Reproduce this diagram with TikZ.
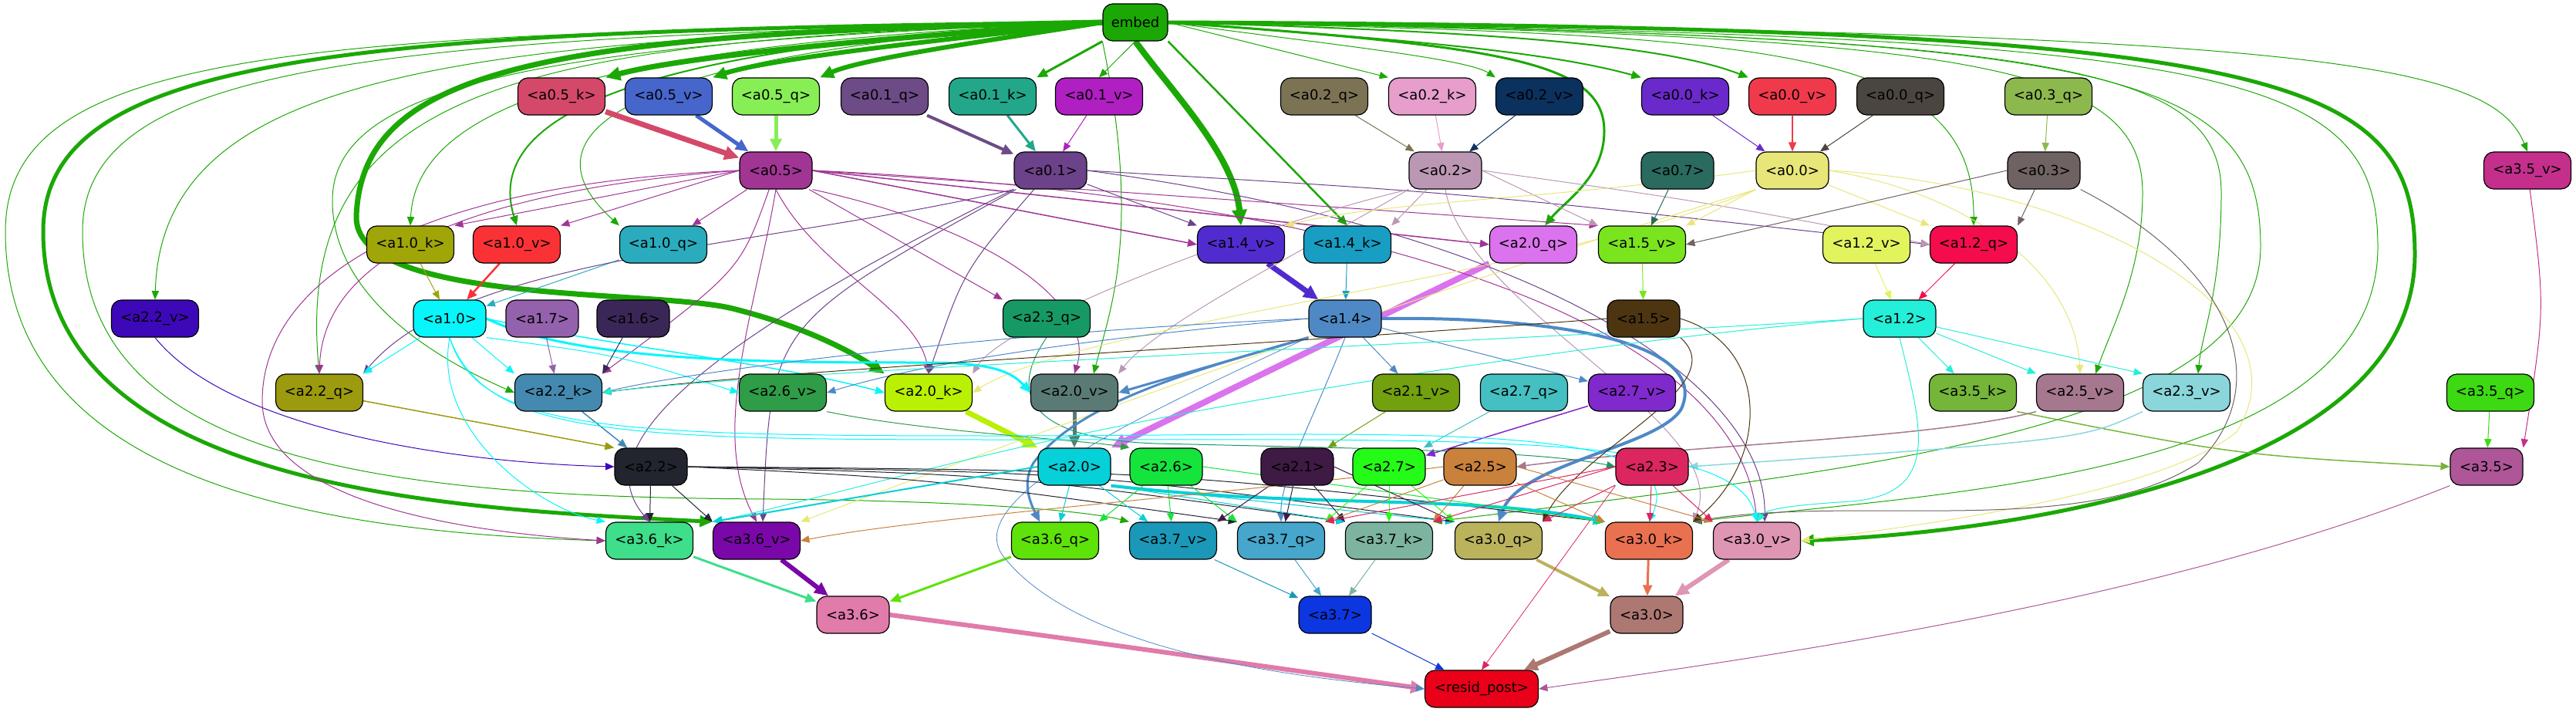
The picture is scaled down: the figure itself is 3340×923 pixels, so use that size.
\documentclass[tikz,border=0pt]{standalone}
\usepackage{fontspec}
\setmainfont{DejaVu Sans}
\usetikzlibrary{arrows.meta}
\pgfdeclarelayer{bg}
\pgfsetlayers{bg,main}
\definecolor{cE}{HTML}{1BA805}
\definecolor{c05k}{HTML}{D4496A}
\definecolor{c05v}{HTML}{4666CC}
\definecolor{c05q}{HTML}{88EE55}
\definecolor{c01q}{HTML}{6D4B87}
\definecolor{c01k}{HTML}{23A78A}
\definecolor{c01v}{HTML}{AF1FC2}
\definecolor{c02q}{HTML}{7B7354}
\definecolor{c02k}{HTML}{E79ECC}
\definecolor{c02v}{HTML}{0B315E}
\definecolor{c00k}{HTML}{6A2ACB}
\definecolor{c00v}{HTML}{F03A4C}
\definecolor{c00q}{HTML}{4B4540}
\definecolor{c03q}{HTML}{8DB84E}
\definecolor{c05}{HTML}{A03594}
\definecolor{c01}{HTML}{6C428A}
\definecolor{c02}{HTML}{BB97B4}
\definecolor{c07}{HTML}{2B6A5E}
\definecolor{c00}{HTML}{E8E679}
\definecolor{c03}{HTML}{6F6262}
\definecolor{c35v}{HTML}{C42F8C}
\definecolor{c10k}{HTML}{A0A508}
\definecolor{c10v}{HTML}{FB3235}
\definecolor{c10q}{HTML}{2AACBE}
\definecolor{c14v}{HTML}{502CCF}
\definecolor{c14k}{HTML}{179EC2}
\definecolor{c20q}{HTML}{DB73EE}
\definecolor{c15v}{HTML}{7AE41E}
\definecolor{c12v}{HTML}{E3F35E}
\definecolor{c12q}{HTML}{F50C4C}
\definecolor{c22v}{HTML}{3D08B8}
\definecolor{c10}{HTML}{06F6FB}
\definecolor{c17}{HTML}{9461AC}
\definecolor{c16}{HTML}{3A2757}
\definecolor{c23q}{HTML}{179963}
\definecolor{c14}{HTML}{4E89C6}
\definecolor{c15}{HTML}{4C3510}
\definecolor{c12}{HTML}{24EFD8}
\definecolor{c22q}{HTML}{9C9A0E}
\definecolor{c22k}{HTML}{448AB0}
\definecolor{c26v}{HTML}{2F9C47}
\definecolor{c20k}{HTML}{BAF004}
\definecolor{c20v}{HTML}{5A7A76}
\definecolor{c21v}{HTML}{72A00F}
\definecolor{c27q}{HTML}{44C0C2}
\definecolor{c27v}{HTML}{8029CC}
\definecolor{c35k}{HTML}{74B53A}
\definecolor{c25v}{HTML}{A67890}
\definecolor{c23v}{HTML}{8AD6DB}
\definecolor{c35q}{HTML}{3DD912}
\definecolor{c22}{HTML}{22252E}
\definecolor{c20}{HTML}{06D0D8}
\definecolor{c26}{HTML}{15E43D}
\definecolor{c21}{HTML}{3F1A45}
\definecolor{c27}{HTML}{24FB17}
\definecolor{c25}{HTML}{C9813B}
\definecolor{c23}{HTML}{DB2660}
\definecolor{c35}{HTML}{AE5697}
\definecolor{c36k}{HTML}{3EDE8B}
\definecolor{c36v}{HTML}{7A08A8}
\definecolor{c36q}{HTML}{5EE20A}
\definecolor{c37v}{HTML}{1B98B8}
\definecolor{c37q}{HTML}{46A6CB}
\definecolor{c37k}{HTML}{7CB49F}
\definecolor{c30q}{HTML}{BAB35C}
\definecolor{c30k}{HTML}{EA7150}
\definecolor{c30v}{HTML}{DF95B4}
\definecolor{c36}{HTML}{E07BAA}
\definecolor{c37}{HTML}{0C36E0}
\definecolor{c30}{HTML}{AD7872}
\definecolor{cres}{HTML}{EA0018}
\begin{document}
\begin{tikzpicture}[x=1pt,y=-1pt,
  nd/.style={draw=black, line width=1.2pt, rounded corners=13pt, minimum height=48pt, inner sep=0pt, font=\fontsize{18}{20}\selectfont, text=black},
  nb/.style={nd, minimum width=113pt},
  ns/.style={nd, minimum width=94pt},
  ea/.style={-{Triangle[length=10pt 1.3, width=8pt 1.3]}, line width=1pt}]
\useasboundingbox (0,0) rectangle (3340,923);
% nodes
\node[nd, minimum width=84pt, fill=cE] (embed) at (1472,29) {embed};
\node[nb, fill=c05k] (a05k) at (728,125) {<a0.5\_k>};
\node[nb, fill=c05v] (a05v) at (867,125) {<a0.5\_v>};
\node[nb, fill=c05q] (a05q) at (1006,125) {<a0.5\_q>};
\node[nb, fill=c01q] (a01q) at (1147,125) {<a0.1\_q>};
\node[nb, fill=c01k] (a01k) at (1287,125) {<a0.1\_k>};
\node[nb, fill=c01v] (a01v) at (1425,125) {<a0.1\_v>};
\node[nb, fill=c02q] (a02q) at (1717,125) {<a0.2\_q>};
\node[nb, fill=c02k] (a02k) at (1857,125) {<a0.2\_k>};
\node[nb, fill=c02v] (a02v) at (1996,125) {<a0.2\_v>};
\node[nb, fill=c00k] (a00k) at (2185,125) {<a0.0\_k>};
\node[nb, fill=c00v] (a00v) at (2324,125) {<a0.0\_v>};
\node[nb, fill=c00q] (a00q) at (2464,125) {<a0.0\_q>};
\node[nb, fill=c03q] (a03q) at (2656,125) {<a0.3\_q>};
\node[ns, fill=c05] (a05) at (1006,221) {<a0.5>};
\node[ns, fill=c01] (a01) at (1362,221) {<a0.1>};
\node[ns, fill=c02] (a02) at (1874,221) {<a0.2>};
\node[ns, fill=c07] (a07) at (2175,221) {<a0.7>};
\node[ns, fill=c00] (a00) at (2324,221) {<a0.0>};
\node[ns, fill=c03] (a03) at (2650,221) {<a0.3>};
\node[nb, fill=c35v] (a35v) at (3277,221) {<a3.5\_v>};
\node[nb, fill=c10k] (a10k) at (532,317) {<a1.0\_k>};
\node[nb, fill=c10v] (a10v) at (670,317) {<a1.0\_v>};
\node[nb, fill=c10q] (a10q) at (860,317) {<a1.0\_q>};
\node[nb, fill=c14v] (a14v) at (1609,317) {<a1.4\_v>};
\node[nb, fill=c14k] (a14k) at (1747,317) {<a1.4\_k>};
\node[nb, fill=c20q] (a20q) at (1988,317) {<a2.0\_q>};
\node[nb, fill=c15v] (a15v) at (2129,317) {<a1.5\_v>};
\node[nb, fill=c12v] (a12v) at (2420,317) {<a1.2\_v>};
\node[nb, fill=c12q] (a12q) at (2559,317) {<a1.2\_q>};
\node[nb, fill=c22v] (a22v) at (201,413) {<a2.2\_v>};
\node[ns, fill=c10] (a10) at (583,413) {<a1.0>};
\node[ns, fill=c17] (a17) at (703,413) {<a1.7>};
\node[ns, fill=c16] (a16) at (821,413) {<a1.6>};
\node[nb, fill=c23q] (a23q) at (1357,413) {<a2.3\_q>};
\node[ns, fill=c14] (a14) at (1744,413) {<a1.4>};
\node[ns, fill=c15] (a15) at (2131,413) {<a1.5>};
\node[ns, fill=c12] (a12) at (2463,413) {<a1.2>};
\node[nb, fill=c22q] (a22q) at (414,509) {<a2.2\_q>};
\node[nb, fill=c22k] (a22k) at (724,509) {<a2.2\_k>};
\node[nb, fill=c26v] (a26v) at (1015,509) {<a2.6\_v>};
\node[nb, fill=c20k] (a20k) at (1204,509) {<a2.0\_k>};
\node[nb, fill=c20v] (a20v) at (1393,509) {<a2.0\_v>};
\node[nb, fill=c21v] (a21v) at (1836,509) {<a2.1\_v>};
\node[nb, fill=c27q] (a27q) at (1976,509) {<a2.7\_q>};
\node[nb, fill=c27v] (a27v) at (2116,509) {<a2.7\_v>};
\node[nb, fill=c35k] (a35k) at (2558,509) {<a3.5\_k>};
\node[nb, fill=c25v] (a25v) at (2697,509) {<a2.5\_v>};
\node[nb, fill=c23v] (a23v) at (2835,509) {<a2.3\_v>};
\node[nb, fill=c35q] (a35q) at (3229,509) {<a3.5\_q>};
\node[ns, fill=c22] (a22) at (844,605) {<a2.2>};
\node[ns, fill=c20] (a20) at (1393,605) {<a2.0>};
\node[ns, fill=c26] (a26) at (1512,605) {<a2.6>};
\node[ns, fill=c21] (a21) at (1682,605) {<a2.1>};
\node[ns, fill=c27] (a27) at (1801,605) {<a2.7>};
\node[ns, fill=c25] (a25) at (1919,605) {<a2.5>};
\node[ns, fill=c23] (a23) at (2142,605) {<a2.3>};
\node[ns, fill=c35] (a35) at (3224,605) {<a3.5>};
\node[nb, fill=c36k] (a36k) at (842,701) {<a3.6\_k>};
\node[nb, fill=c36v] (a36v) at (981,701) {<a3.6\_v>};
\node[nb, fill=c36q] (a36q) at (1368,701) {<a3.6\_q>};
\node[nb, fill=c37v] (a37v) at (1521,701) {<a3.7\_v>};
\node[nb, fill=c37q] (a37q) at (1661,701) {<a3.7\_q>};
\node[nb, fill=c37k] (a37k) at (1801,701) {<a3.7\_k>};
\node[nb, fill=c30q] (a30q) at (1943,701) {<a3.0\_q>};
\node[nb, fill=c30k] (a30k) at (2138,701) {<a3.0\_k>};
\node[nb, fill=c30v] (a30v) at (2278,701) {<a3.0\_v>};
\node[ns, fill=c36] (a36) at (1106,797) {<a3.6>};
\node[ns, fill=c37] (a37) at (1731,797) {<a3.7>};
\node[ns, fill=c30] (a30) at (2135,797) {<a3.0>};
\node[nd, minimum width=147pt, fill=cres] (res) at (1921,893) {<resid\_post>};
\begin{pgfonlayer}{bg}
% embed, right and down
\draw[ea,cE,line width=7pt] (embed.west) .. controls (1200,45) and (900,70) .. (a05k.north east);
\draw[ea,cE,line width=6pt] (embed.west) .. controls (1250,48) and (1000,75) .. (a05v.north east);
\draw[ea,cE,line width=6pt] (embed.west) .. controls (1300,50) and (1120,75) .. (a05q.north east);
\draw[ea,cE,line width=3pt] (embed.south west) -- (a01k.north east);
\draw[ea,cE] (embed.south) -- (a01v.north);
\draw[ea,cE,line width=8pt] (embed.south) .. controls (1520,120) and (1600,200) .. (a14v.north);
\draw[ea,cE,line width=2.5pt] (embed.south east) -- (a14k.north);
\draw[ea,cE,line width=3pt] (embed.east) .. controls (1950,60) and (2080,80) .. (2080,170) .. controls (2080,230) and (2030,260) .. ([xshift=15pt]a20q.north);
\draw[ea,cE] (embed.east) -- (a02k.north west);
\draw[ea,cE] (embed.east) .. controls (1700,55) and (1900,75) .. (a02v.north west);
\draw[ea,cE,line width=2pt] (embed.east) .. controls (1800,50) and (2000,65) .. (a00k.north west);
\draw[ea,cE,line width=2pt] (embed.east) .. controls (1900,40) and (2150,55) .. (a00v.north west);
\draw[ea,cE] (embed.east) .. controls (2300,45) and (2560,60) .. (a12q.north);
\draw[ea,cE] (embed.east) .. controls (2550,45) and (2778,80) .. (2778,250) .. controls (2778,350) and (2740,420) .. ([xshift=20pt]a25v.north);
\draw[ea,cE] (embed.east) .. controls (2650,45) and (2880,80) .. (2880,250) .. controls (2880,380) and (2855,430) .. ([xshift=15pt]a23v.north);
\draw[ea,cE] (embed.east) .. controls (2750,45) and (2931,90) .. (2931,320) .. controls (2931,560) and (2400,610) .. (a37k.north east);
\draw[ea,cE] (embed.east) .. controls (2900,45) and (3083,90) .. (3083,320) .. controls (3083,620) and (2500,640) .. (a30k.north east);
\draw[ea,cE,line width=5pt] (embed.east) .. controls (2950,35) and (3131,90) .. (3131,330) .. controls (3131,620) and (2600,690) .. (a30v.east);
\draw[ea,cE] (embed.east) .. controls (3000,40) and (3230,80) .. (a35v.north);
% embed, left
\draw[ea,cE] (embed.west) .. controls (400,42) and (7,60) .. (7,300) .. controls (7,620) and (400,690) .. (a36k.west);
\draw[ea,cE,line width=5pt] (embed.west) .. controls (450,40) and (56,70) .. (56,300) .. controls (56,640) and (600,660) .. (a36v.north west);
\draw[ea,cE] (embed.west) .. controls (500,48) and (107,80) .. (107,300) .. controls (107,600) and (500,645) .. (1000,647) .. controls (1300,650) and (1420,665) .. (a37v.north west);
\draw[ea,cE] (embed.west) .. controls (600,50) and (210,90) .. (a22v.north);
\draw[ea,cE] (embed.west) .. controls (700,52) and (379,100) .. (a22q.north);
\draw[ea,cE] (embed.west) .. controls (700,55) and (431,110) .. (431,260) .. controls (431,400) and (600,480) .. (a22k.west);
\draw[ea,cE,line width=7pt] (embed.west) .. controls (700,42) and (470,90) .. (462,280) .. controls (458,395) and (850,375) .. (950,400) .. controls (1050,425) and (1110,460) .. (a20k.north west);
\draw[ea,cE] (embed.west) .. controls (800,55) and (540,130) .. (a10k.north);
\draw[ea,cE,line width=2pt] (embed.west) .. controls (900,55) and (620,130) .. (a10v.north);
\draw[ea,cE] (embed.west) .. controls (900,60) and (645,150) .. (a10q.north west);
\draw[ea,cE] (embed.south west) .. controls (1480,300) and (1440,400) .. ([xshift=25pt]a20v.north);
% aggregators
\draw[ea,c05k,line width=7pt] (a05k) -- (a05);
\draw[ea,c05v,line width=5pt] (a05v) -- (a05);
\draw[ea,c05q,line width=5pt] (a05q) -- (a05);
\draw[ea,c01q,line width=4pt] (a01q) -- (a01);
\draw[ea,c01k,line width=3pt] (a01k) -- (a01);
\draw[ea,c01v] (a01v) -- (a01);
\draw[ea,c02q] (a02q) -- (a02);
\draw[ea,c02k] (a02k) -- (a02);
\draw[ea,c02v] (a02v) -- (a02);
\draw[ea,c00k] (a00k) -- (a00);
\draw[ea,c00v,line width=1.5pt] (a00v) -- (a00);
\draw[ea,c00q] (a00q) -- (a00);
\draw[ea,c03q] (a03q) -- (a03);
\draw[ea,c10k] (a10k) -- (a10);
\draw[ea,c10v,line width=2.5pt] (a10v) -- (a10);
\draw[ea,c10q] (a10q) -- (a10);
\draw[ea,c14v,line width=7pt] (a14v) -- (a14);
\draw[ea,c14k] (a14k) -- (a14);
\draw[ea,c15v] (a15v) -- (a15);
\draw[ea,c12v] (a12v) -- (a12);
\draw[ea,c12q] (a12q) -- (a12);
\draw[ea,c35v] (a35v) .. controls (3300,400) .. (a35.north east);
\draw[ea,c35q] (a35q) -- (a35);
\draw[ea,c35k,line width=1.5pt] (a35k.south east) .. controls (2900,590) .. (a35.west);
\draw[ea,c22v] (a22v.south) .. controls (300,560) and (600,600) .. (a22.west);
\draw[ea,c22q,line width=1.5pt] (a22q) -- (a22.north west);
\draw[ea,c22k,line width=1.5pt] (a22k) -- (a22);
\draw[ea,c20q,line width=8pt] (a20q.south west) -- (a20.north east);
\draw[ea,c20k,line width=7pt] (a20k) -- (a20.north west);
\draw[ea,c20v,line width=5pt] (a20v) -- (a20);
\draw[ea,c26v] (a26v.south east) .. controls (1200,560) and (1400,570) .. (a26.north west);
\draw[ea,c21v] (a21v) -- (a21);
\draw[ea,c27q] (a27q) -- (a27);
\draw[ea,c27v,line width=1.5pt] (a27v) -- (a27);
\draw[ea,c25v,line width=1.5pt] (a25v.south west) .. controls (2500,570) and (2200,575) .. (a25.east);
\draw[ea,c23q] (a23q.south) .. controls (1300,520) and (1350,570) .. (1500,575) .. controls (1800,582) and (2000,585) .. (a23.west);
\draw[ea,c23v,line width=1.5pt] (a23v.south west) .. controls (2700,570) .. (a23.east);
\draw[ea,c36k,line width=3pt] (a36k) -- (a36);
\draw[ea,c36v,line width=6pt] (a36v) -- (a36);
\draw[ea,c36q,line width=3pt] (a36q) -- (a36);
\draw[ea,c37v] (a37v) -- (a37);
\draw[ea,c37q] (a37q) -- (a37);
\draw[ea,c37k] (a37k) -- (a37);
\draw[ea,c30q,line width=4pt] (a30q) -- (a30);
\draw[ea,c30k,line width=3pt] (a30k) -- (a30);
\draw[ea,c30v,line width=6pt] (a30v) -- (a30);
\draw[ea,c36,line width=6pt] (a36.east) .. controls (1400,830) .. (res.west);
\draw[ea,c37] (a37) -- (res);
\draw[ea,c30,line width=6pt] (a30) -- (res);
\draw[ea,c35] (a35.south west) .. controls (2800,780) and (2300,850) .. (res.east);
\draw[ea,c23,line width=0.8pt] (a23.south west) -- (res.north);
\draw[ea,c14,line width=0.8pt] (a14.south west) .. controls (1450,550) and (1250,650) .. (1300,720) .. controls (1400,850) and (1700,880) .. (res.west);
% a0.5
\draw[ea,c05] (a05.west) -- (a10k.north east);
\draw[ea,c05] (a05.west) -- (a10v.north east);
\draw[ea,c05] (a05) -- (a10q);
\draw[ea,c05,line width=1.5pt] (a05.east) -- (a14v.west);
\draw[ea,c05,line width=1.5pt] (a05.east) -- (a20q.west);
\draw[ea,c05] (a05.east) -- (a15v.north west);
\draw[ea,c05] (a05) -- (a23q.north west);
\draw[ea,c05] (a05.west) .. controls (700,240) and (421,300) .. (a22q.north);
\draw[ea,c05] (a05) .. controls (960,350) .. (a22k.north east);
\draw[ea,c05] (a05.south) .. controls (1060,350) and (1190,400) .. (a20k.north);
\draw[ea,c05] (a05.south east) .. controls (1300,300) and (1420,400) .. (a20v.north);
\draw[ea,c05] (a05.west) .. controls (500,240) and (340,380) .. (340,520) .. controls (340,650) and (600,690) .. (a36k.west);
\draw[ea,c05] (a05.south) .. controls (980,400) and (920,560) .. (a36v.north);
\draw[ea,c05] (a05.east) .. controls (1700,250) and (2250,400) .. (a30v.north);
% a0.1
\draw[ea,c01] (a01) -- (a14v.north west);
\draw[ea,c01] (a01.east) .. controls (1900,250) .. (a12q.west);
\draw[ea,c01] (a01.south west) .. controls (1000,320) and (600,330) .. (a22q.north east);
\draw[ea,c01] (a01) .. controls (1250,350) .. (a20k.north);
\draw[ea,c01] (a01.south west) .. controls (900,450) and (760,580) .. (a36k.north);
\draw[ea,c01] (a01) .. controls (1000,420) .. ([xshift=8pt]a36v.north);
\draw[ea,c01] (a01.east) .. controls (2000,300) and (2290,500) .. ([xshift=10pt]a30v.north);
% a0.2
\draw[ea,c02] (a02) -- (a14k.north east);
\draw[ea,c02] (a02.east) -- (a15v.north west);
\draw[ea,c02] (a02.east) .. controls (2200,260) .. (a12q.west);
\draw[ea,c02] (a02.south west) .. controls (1600,300) and (1300,420) .. (a20k.north east);
\draw[ea,c02] (a02.south west) .. controls (1700,320) and (1500,420) .. (a20v.north east);
\draw[ea,c02] (a02.south) .. controls (1900,400) and (2250,550) .. (a30k.north east);
% a0.0
\draw[ea,c00] (a00.west) .. controls (2000,260) and (1800,260) .. (a14v.north east);
\draw[ea,c00] (a00) -- (a15v.north east);
\draw[ea,c00] (a00) -- (a12q.north west);
\draw[ea,c00] (a00.south west) .. controls (2000,360) and (1400,420) .. (a20k.east);
\draw[ea,c00] (a00.east) .. controls (2550,250) and (2690,350) .. (a25v.north);
\draw[ea,c00] (a00.east) .. controls (2700,240) and (3000,400) .. (2900,560) .. controls (2800,640) and (2500,680) .. (a30v.east);
\draw[ea,c00] (a00.south west) .. controls (1900,360) and (1400,540) .. (a36v.north east);
% a0.3, a0.7
\draw[ea,c03] (a03.west) -- (a15v.east);
\draw[ea,c03] (a03) -- (a12q.north east);
\draw[ea,c03] (a03.south east) .. controls (2900,350) and (2950,500) .. (2850,600) .. controls (2700,700) and (2400,640) .. (a30k.north east);
\draw[ea,c07] (a07) -- (a15v);
% a1.0
\draw[ea,c10] (a10) -- (a22q.north east);
\draw[ea,c10] (a10) -- (a22k.north west);
\draw[ea,c10] (a10.south east) .. controls (800,460) .. (a26v.west);
\draw[ea,c10,line width=1.5pt] (a10.east) .. controls (800,450) and (1000,470) .. (a20k.west);
\draw[ea,c10,line width=3pt] (a10.east) .. controls (750,470) and (1000,470) .. (1200,470) .. controls (1280,470) and (1310,480) .. (a20v.west);
\draw[ea,c10] (a10.south) .. controls (560,560) and (700,660) .. (a36k.north west);
\draw[ea,c10] (a10.south) .. controls (620,560) and (800,565) .. (1300,565) .. controls (1800,565) and (2200,540) .. (a30k.north);
\draw[ea,c10] (a10.south) .. controls (630,565) and (800,570) .. (1300,570) .. controls (1900,570) and (2250,560) .. (a30v.north);
\draw[ea,c17] (a17) -- (a22k);
\draw[ea,c16] (a16) -- (a22k.north east);
% a1.4
\draw[ea,c14,line width=3pt] (a14.south west) -- (a20v.east);
\draw[ea,c14] (a14) -- (a21v);
\draw[ea,c14] (a14) -- (a27v);
\draw[ea,c14] (a14.west) .. controls (1400,440) and (1200,470) .. (a26v.east);
\draw[ea,c14] (a14.west) .. controls (1300,430) and (900,480) .. (a22k.east);
\draw[ea,c14,line width=3pt] (a14.south west) .. controls (1550,480) and (1400,520) .. (1340,600) .. controls (1325,625) and (1335,650) .. ([xshift=-20pt]a36q.north);
\draw[ea,c14,line width=4pt] (a14.east) .. controls (2000,410) and (2220,440) .. (2180,530) .. controls (2150,580) and (1970,600) .. (a30q.north);
\draw[ea,c14] (a14.south) .. controls (1700,550) and (1660,620) .. (a37q.north);
% a1.5
\draw[ea,c15] (a15.west) .. controls (1600,450) and (1000,480) .. (a22k.east);
\draw[ea,c15] (a15.south east) .. controls (2250,500) and (2050,580) .. (a30q.north east);
\draw[ea,c15] (a15.east) .. controls (2300,450) and (2290,600) .. (a30k.north east);
% a1.2
\draw[ea,c12] (a12) -- (a35k);
\draw[ea,c12] (a12) -- (a25v.north west);
\draw[ea,c12] (a12) -- (a23v.north west);
\draw[ea,c12] (a12.west) .. controls (2000,440) and (1000,480) .. (a22k.east);
\draw[ea,c12] (a12.west) .. controls (2100,440) and (1700,500) .. (1400,563) .. controls (1200,605) and (1050,650) .. (a36v.north west);
\draw[ea,c12] (a12.south) .. controls (2490,550) and (2520,640) .. (2400,650) .. controls (2320,655) and (2290,660) .. (a30v.north);
% a2.2
\draw[ea,c22] (a22) -- (a36k);
\draw[ea,c22] (a22) -- (a36v.north west);
\draw[ea,c22] (a22.east) .. controls (1200,620) .. (a37q.north west);
\draw[ea,c22] (a22.east) .. controls (1300,615) .. (a37k.north west);
\draw[ea,c22] (a22.east) .. controls (1400,612) .. (a30q.north west);
\draw[ea,c22] (a22.east) .. controls (1500,610) .. (a30k.north west);
% a2.0
\draw[ea,c20,line width=4pt] (a20.south east) .. controls (1700,660) and (1900,640) .. (a30k.north west);
\draw[ea,c20,line width=2pt] (a20.west) -- (a36v.north west);
\draw[ea,c20] (a20) -- (a36q);
\draw[ea,c20] (a20) -- (a37v);
\draw[ea,c20] (a20.south east) -- (a37k.north west);
\draw[ea,c20] (a20.south east) -- (a30q.north west);
% a2.6
\draw[ea,c26] (a26) -- (a36q.north east);
\draw[ea,c26] (a26) -- (a37v);
\draw[ea,c26] (a26) -- (a37q.north west);
\draw[ea,c26] (a26.east) -- (a30k.north west);
% a2.1
\draw[ea,c21] (a21) -- (a37v.north east);
\draw[ea,c21] (a21) -- (a37q);
\draw[ea,c21] (a21) -- (a37k.north west);
\draw[ea,c21] (a21.east) -- (a30q.north west);
% a2.7
\draw[ea,c27] (a27) -- (a37q.north east);
\draw[ea,c27] (a27) -- (a37k);
\draw[ea,c27] (a27) -- (a30q.north west);
% a2.5
\draw[ea,c25] (a25.west) .. controls (1600,640) and (1200,670) .. (a36v.east);
\draw[ea,c25] (a25) -- (a37q.north east);
\draw[ea,c25] (a25) -- (a37k.north east);
\draw[ea,c25] (a25) -- (a30k.north west);
\draw[ea,c25] (a25.east) -- (a30v.north west);
% a2.3
\draw[ea,c23] (a23.west) -- (a37q.north east);
\draw[ea,c23] (a23.west) -- (a37k.north east);
\draw[ea,c23] (a23) -- (a30q.north east);
\draw[ea,c23] (a23) -- (a30k);
\draw[ea,c23] (a23) -- (a30v.north west);
\end{pgfonlayer}
\end{tikzpicture}
\end{document}
